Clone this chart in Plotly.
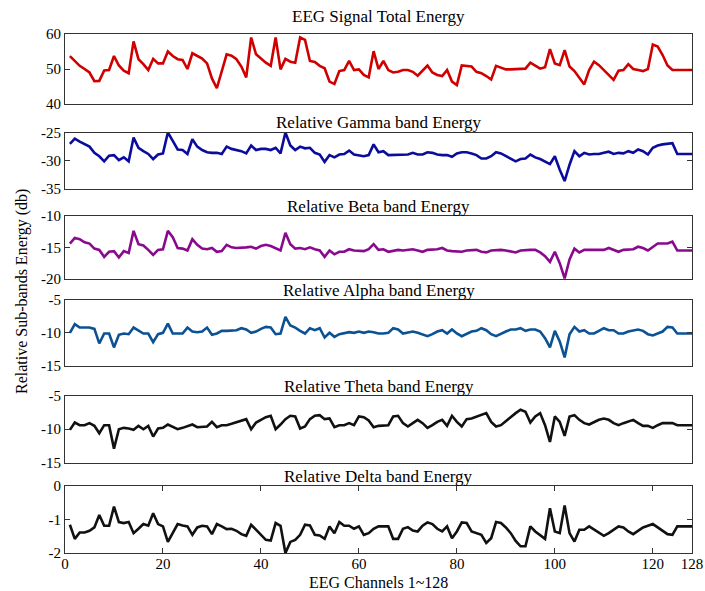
import plotly.graph_objects as go

channels = list(range(1, 129))

total_energy = [
    53.7, 52.3, 50.9, 50.0, 49.0, 46.5, 46.6, 49.6, 49.7, 53.7, 51.0, 49.5, 48.8, 57.9, 52.8, 51.4,
    49.7, 52.9, 51.6, 51.6, 55.0, 53.7, 52.8, 52.6, 50.0, 54.5, 53.7, 53.0, 51.6, 47.3, 44.5, 49.7,
    54.2, 53.8, 52.8, 50.7, 47.6, 59.0, 54.2, 53.0, 51.8, 50.9, 59.0, 49.9, 52.9, 52.1, 51.8, 59.0,
    58.3, 52.3, 52.0, 50.9, 50.2, 46.4, 45.7, 49.4, 49.7, 52.3, 49.7, 49.9, 48.3, 47.6, 55.1, 50.0,
    52.3, 49.7, 49.0, 49.2, 49.7, 49.7, 49.2, 48.1, 49.7, 51.0, 49.0, 48.3, 48.0, 49.7, 46.4, 45.4,
    51.0, 50.9, 50.7, 49.2, 48.8, 48.0, 47.0, 50.9, 50.4, 49.9, 49.9, 49.9, 49.9, 50.1, 51.8, 50.9,
    50.1, 50.5, 55.7, 51.6, 51.1, 55.4, 50.7, 49.4, 47.6, 45.6, 49.7, 52.1, 51.1, 49.7, 48.3, 46.9,
    49.5, 49.7, 51.4, 50.0, 49.7, 49.4, 50.0, 57.0, 56.4, 54.0, 51.0, 49.7, 49.7, 49.7, 49.7, 49.7,
]

gamma_energy = [
    -27.0, -26.1, -26.6, -27.1, -27.5, -28.6, -29.2, -30.1, -29.1, -29.0, -29.9, -29.4, -30.1, -25.9, -27.7, -28.3,
    -28.8, -29.7, -28.9, -28.7, -25.0, -26.5, -28.0, -28.1, -28.8, -26.2, -27.5, -28.1, -28.5, -28.6, -28.6, -28.8,
    -27.5, -27.9, -28.1, -28.3, -28.7, -27.3, -28.1, -27.9, -27.9, -28.1, -27.7, -28.7, -25.0, -27.3, -28.1, -27.5,
    -27.8, -27.7, -28.6, -28.9, -30.2, -29.0, -29.4, -28.9, -28.8, -28.2, -28.9, -29.0, -29.2, -29.0, -27.1, -28.5,
    -28.3, -29.0, -29.0, -29.0, -28.9, -28.9, -28.6, -28.9, -28.9, -28.5, -28.6, -28.9, -29.0, -29.0, -29.3, -28.7,
    -28.5, -28.5, -28.7, -29.0, -29.6, -29.6, -29.2, -28.5, -28.7, -29.2, -29.7, -30.1, -29.7, -29.6, -28.9, -29.4,
    -29.7, -30.1, -30.6, -29.2, -31.6, -33.6, -30.7, -28.3, -29.2, -28.6, -28.9, -28.8, -28.8, -28.6, -28.4, -28.8,
    -28.6, -28.7, -28.3, -28.6, -28.0, -28.3, -28.9, -27.7, -27.3, -27.1, -27.0, -26.9, -28.8, -28.8, -28.8, -28.8,
]

beta_energy = [
    -14.4, -13.5, -13.7, -14.2, -14.4, -15.2, -15.4, -16.5, -15.7, -15.6, -16.6, -15.6, -15.9, -12.4, -14.5, -14.7,
    -15.4, -16.2, -15.4, -15.3, -12.4, -13.4, -15.1, -15.2, -15.5, -13.7, -14.6, -15.2, -15.3, -15.1, -15.7, -15.6,
    -14.6, -15.0, -15.1, -15.1, -15.0, -14.9, -15.2, -14.8, -14.6, -14.8, -15.1, -15.5, -12.7, -14.5, -15.2, -15.1,
    -15.3, -15.0, -15.3, -15.5, -16.5, -15.5, -16.1, -15.7, -15.7, -15.3, -15.5, -15.5, -15.6, -15.3, -14.5, -15.4,
    -15.3, -15.7, -15.5, -15.4, -15.5, -15.4, -15.3, -15.5, -15.7, -15.4, -15.4, -15.3, -15.1, -15.5, -15.6, -15.7,
    -15.7, -15.5, -15.4, -15.4, -15.7, -15.8, -15.5, -15.4, -15.4, -15.5, -15.7, -15.8, -15.5, -15.4, -15.4, -15.4,
    -15.8, -16.4, -17.3, -15.7, -17.5, -19.9, -16.9, -15.2, -15.8, -15.4, -15.4, -15.4, -15.4, -15.4, -15.1, -15.4,
    -15.7, -15.4, -15.3, -15.3, -14.9, -15.1, -15.5, -14.9, -14.4, -14.4, -14.4, -14.1, -15.5, -15.5, -15.5, -15.5,
]

alpha_energy = [
    -10.0, -8.7, -9.2, -9.2, -9.2, -9.4, -11.6, -10.1, -10.1, -12.2, -10.3, -10.1, -10.2, -9.2, -9.7, -10.1,
    -10.1, -11.4, -10.2, -10.0, -8.6, -10.1, -10.1, -10.1, -9.2, -9.8, -9.9, -9.8, -9.2, -10.3, -10.1, -9.7,
    -9.7, -9.7, -9.6, -9.3, -9.5, -10.0, -9.8, -9.4, -9.1, -9.2, -10.2, -10.1, -7.6, -8.9, -9.2, -9.7,
    -10.1, -9.3, -9.6, -9.3, -10.7, -10.0, -10.6, -10.2, -10.1, -9.9, -10.0, -9.8, -10.0, -9.8, -9.9, -10.1,
    -10.1, -10.0, -9.3, -9.5, -10.1, -9.9, -9.8, -10.0, -10.2, -10.5, -10.2, -9.8, -9.6, -10.1, -9.5, -10.1,
    -10.5, -10.2, -9.8, -9.7, -9.3, -9.6, -10.2, -10.5, -10.1, -9.8, -9.5, -9.5, -9.3, -9.7, -9.5, -9.5,
    -9.8, -10.8, -12.2, -9.7, -11.3, -13.7, -10.2, -9.1, -9.8, -9.6, -10.1, -10.1, -9.7, -9.3, -9.6, -9.6,
    -10.1, -10.1, -9.8, -9.6, -9.5, -9.7, -10.2, -10.4, -10.1, -9.8, -9.1, -9.2, -10.1, -10.1, -10.1, -10.1,
]

theta_energy = [
    -10.1, -9.0, -9.4, -9.4, -9.1, -9.5, -10.6, -9.4, -9.4, -12.9, -10.0, -9.8, -9.9, -10.1, -9.5, -10.0,
    -9.5, -11.1, -9.9, -9.8, -9.3, -9.6, -10.0, -9.8, -9.5, -9.3, -9.7, -9.7, -9.6, -8.9, -9.7, -9.4,
    -9.4, -9.2, -9.0, -8.7, -8.5, -10.0, -9.0, -8.6, -8.2, -8.0, -10.0, -9.3, -8.5, -8.0, -8.1, -9.9,
    -9.6, -8.5, -8.0, -7.9, -8.5, -8.4, -9.7, -9.4, -9.4, -9.1, -9.4, -8.1, -8.2, -8.7, -9.7, -9.5,
    -9.5, -9.4, -8.1, -8.0, -9.1, -9.6, -9.1, -8.6, -9.1, -9.8, -9.4, -8.9, -8.6, -9.5, -8.0, -8.9,
    -9.6, -8.5, -8.4, -8.1, -7.9, -7.6, -8.9, -9.6, -9.4, -8.8, -8.1, -7.6, -7.1, -7.4, -9.0, -8.1,
    -7.6, -9.4, -11.9, -8.1, -8.9, -11.0, -8.1, -7.9, -8.6, -9.1, -9.3, -8.9, -8.6, -8.4, -8.6, -9.1,
    -9.4, -9.1, -8.8, -8.6, -9.1, -9.5, -9.5, -9.8, -9.4, -9.1, -9.1, -9.1, -9.4, -9.4, -9.4, -9.4,
]

delta_energy = [
    -1.16, -1.58, -1.39, -1.39, -1.34, -1.24, -0.87, -1.19, -1.19, -0.62, -1.08, -1.11, -1.08, -1.41, -1.28, -1.14,
    -1.19, -0.82, -1.14, -1.21, -1.67, -1.41, -1.14, -1.18, -1.21, -1.46, -1.24, -1.19, -1.21, -1.44, -1.14, -1.21,
    -1.29, -1.28, -1.34, -1.44, -1.49, -1.16, -1.31, -1.46, -1.61, -1.63, -1.11, -1.19, -2.00, -1.67, -1.61, -1.46,
    -1.16, -1.18, -1.46, -1.48, -1.58, -1.21, -1.41, -1.08, -1.19, -1.19, -1.28, -1.21, -1.46, -1.41, -1.28, -1.21,
    -1.21, -1.21, -1.58, -1.58, -1.28, -1.23, -1.33, -1.36, -1.19, -1.09, -1.14, -1.28, -1.36, -1.21, -1.56, -1.36,
    -1.09, -1.11, -1.36, -1.41, -1.46, -1.70, -1.56, -1.08, -1.11, -1.24, -1.41, -1.64, -1.80, -1.80, -1.21, -1.36,
    -1.46, -1.58, -0.67, -1.36, -1.41, -0.59, -1.41, -1.66, -1.31, -1.31, -1.21, -1.31, -1.41, -1.49, -1.41, -1.31,
    -1.21, -1.24, -1.36, -1.44, -1.33, -1.24, -1.19, -1.14, -1.24, -1.33, -1.44, -1.46, -1.21, -1.21, -1.21, -1.21,
]

panel_titles = [
    "EEG Signal Total Energy",
    "Relative Gamma band Energy",
    "Relative Beta band Energy",
    "Relative Alpha band Energy",
    "Relative Theta band Energy",
    "Relative Delta band Energy",
]
series = [total_energy, gamma_energy, beta_energy, alpha_energy, theta_energy, delta_energy]
colors = ["#d00000", "#0c0c9c", "#8a0a8e", "#0b5294", "#111111", "#111111"]
y_ranges = [[40, 60], [-35, -25], [-20, -10], [-15, -5], [-15, -5], [-2, 0]]
y_ticks = [[40, 50, 60], [-35, -30, -25], [-20, -15, -10], [-15, -10, -5], [-15, -10, -5], [-2, -1, 0]]
x_ticks = [0, 20, 40, 60, 80, 100, 120, 128]

# layout geometry (pixels in a 705x591 page)
W, H = 705, 591
ML, MR, MT, MB = 65, 13, 34, 38
plot_h = H - MT - MB
panel_px = [(34, 104), (132.5, 189), (215.7, 279), (299.7, 366), (395.7, 462.7), (485.7, 553)]
title_px = [17, 122.7, 206.7, 290, 386.7, 476.7]


def py(p):
    return (H - MB - p) / plot_h


FONT = "Liberation Serif, Times New Roman, serif"

fig = go.Figure()
layout = dict(
    width=W, height=H,
    margin=dict(l=ML, r=MR, t=MT, b=MB, autoexpand=False),
    paper_bgcolor="white", plot_bgcolor="white",
    showlegend=False,
    font=dict(family=FONT, size=14, color="black"),
)
annotations = []
for i, (vals, col) in enumerate(zip(series, colors)):
    n = i + 1
    xa = "x" if n == 1 else f"x{n}"
    ya = "y" if n == 1 else f"y{n}"
    fig.add_trace(go.Scatter(x=channels, y=vals, mode="lines",
                             line=dict(color=col, width=2.6),
                             xaxis=xa, yaxis=ya, hoverinfo="skip"))
    top, bot = panel_px[i]
    is_last = (n == 6)
    layout["xaxis" if n == 1 else f"xaxis{n}"] = dict(
        domain=[0, 1], range=[0, 128], anchor=ya, automargin=False,
        showline=True, linecolor="#333333", linewidth=1, mirror="ticks" if is_last else True,
        showgrid=False, zeroline=False,
        ticks="inside" if is_last else "", ticklen=5, tickcolor="#333333",
        tickvals=x_ticks if is_last else [], showticklabels=is_last,
        ticklabelstandoff=-3,
        tickfont=dict(family=FONT, size=15, color="black"),
    )
    layout["yaxis" if n == 1 else f"yaxis{n}"] = dict(
        domain=[py(bot), py(top)], range=y_ranges[i], anchor=xa, automargin=False,
        showline=True, linecolor="#333333", linewidth=1, mirror="ticks",
        showgrid=False, zeroline=False,
        ticks="inside", ticklen=5, tickcolor="#333333",
        tickvals=y_ticks[i], ticktext=[str(v) for v in y_ticks[i]],
        tickfont=dict(family=FONT, size=15, color="black"),
    )
    annotations.append(dict(text=panel_titles[i], xref="paper", yref="paper",
                            x=0.5, y=py(title_px[i]), xanchor="center", yanchor="middle",
                            showarrow=False, font=dict(family=FONT, size=17, color="black")))

annotations.append(dict(text="Relative Sub-bands Energy (db)", xref="paper", yref="paper",
                        x=(22 - ML) / (W - ML - MR), y=py(292), textangle=-90,
                        xanchor="center", yanchor="middle", showarrow=False,
                        font=dict(family=FONT, size=16, color="black")))
annotations.append(dict(text="EEG Channels 1~128", xref="paper", yref="paper",
                        x=0.5, y=py(582), xanchor="center", yanchor="middle", showarrow=False,
                        font=dict(family=FONT, size=16, color="black")))
layout["annotations"] = annotations
fig.update_layout(**layout)
fig.write_html("out.html", config={"displayModeBar": False},
               post_script="document.body.style.margin='0';document.body.style.overflow='hidden';")
